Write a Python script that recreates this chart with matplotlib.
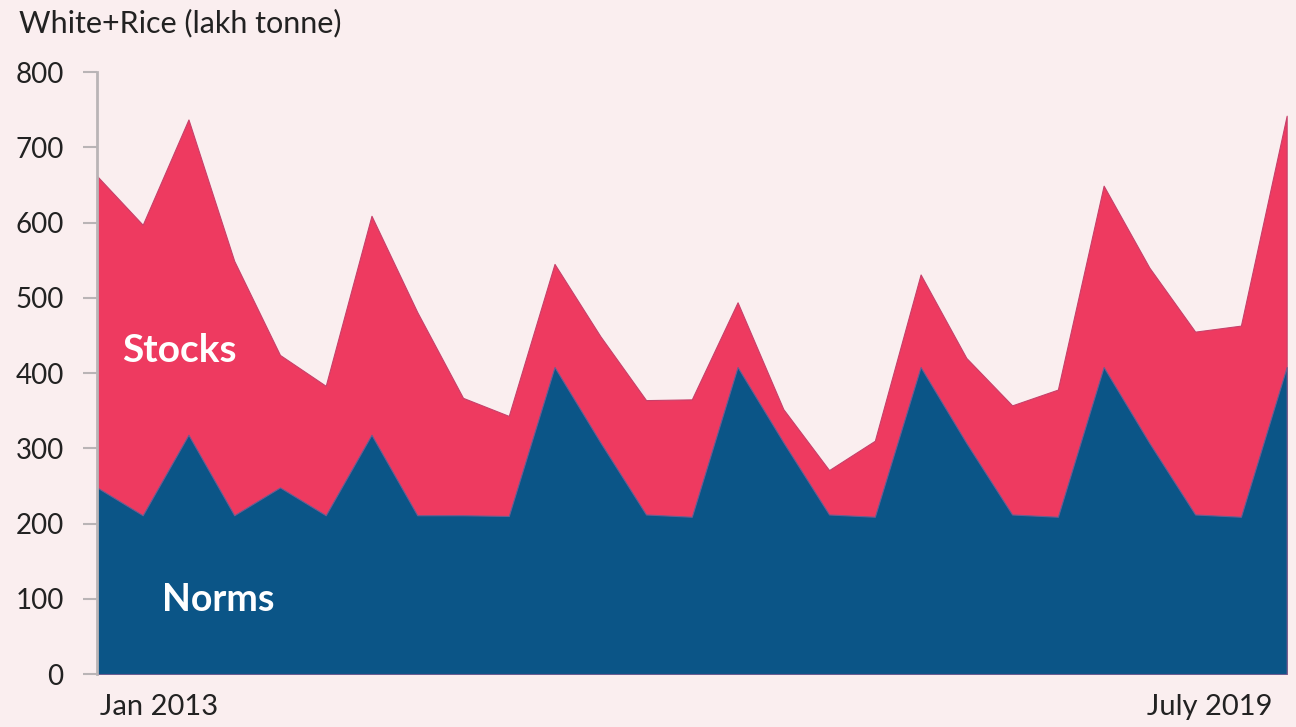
import matplotlib.pyplot as plt
import numpy as np

# quarterly points, Jan 2013 .. July 2019
quarters = np.arange(27)
stocks = [662, 597, 737, 549, 424, 383, 609, 481, 367, 343, 545, 449, 364,
          365, 494, 352, 271, 310, 531, 420, 357, 378, 649, 540, 455, 463, 742]
norms = [248, 211, 318, 211, 248, 211, 318, 211, 211, 210, 408, 308, 212,
         209, 408, 308, 212, 209, 408, 307, 212, 209, 408, 307, 212, 209, 408]
yticks = [0, 100, 200, 300, 400, 500, 600, 700, 800]

bg = '#FAEEEF'
red = '#EE3A60'
blue = '#0B5587'

plt.rcParams['font.family'] = ['Lato', 'DejaVu Sans']

fig = plt.figure(figsize=(12.96, 7.27), dpi=100, facecolor=bg)
ax = fig.add_axes([0.0748, 0.0729, 0.918, 0.828])
ax.set_facecolor(bg)

ax.fill_between(quarters, 0, stocks, color=red, linewidth=0.8, edgecolor='#C7406A')
ax.fill_between(quarters, 0, norms, color=blue, linewidth=0.8, edgecolor='#6A5E92')

ax.set_xlim(0, 26)
ax.set_ylim(0, 800)
ax.set_yticks(yticks)
ax.set_xticks([])

for s in ['top', 'right', 'bottom']:
    ax.spines[s].set_visible(False)
ax.spines['left'].set_color('#B9B4B6')
ax.spines['left'].set_linewidth(2)
ax.tick_params(axis='y', length=10, width=1.5, color='#B9B4B6', pad=14,
               labelsize=20, labelcolor='#222222')

ax.text(0.55, 430, 'Stocks', color='white', fontsize=28, fontweight='bold', va='center')
ax.text(1.42, 98, 'Norms', color='white', fontsize=27, fontweight='bold', va='center')

fig.text(0.0772, 0.028, 'Jan 2013', fontsize=21, color='#222222', va='center')
fig.text(0.982, 0.028, 'July 2019', fontsize=21, color='#222222', va='center', ha='right')
fig.text(0.015, 0.968, 'White+Rice (lakh tonne)', fontsize=22, color='#222222', va='center')

fig.savefig('out.png', dpi=100, facecolor=bg)
